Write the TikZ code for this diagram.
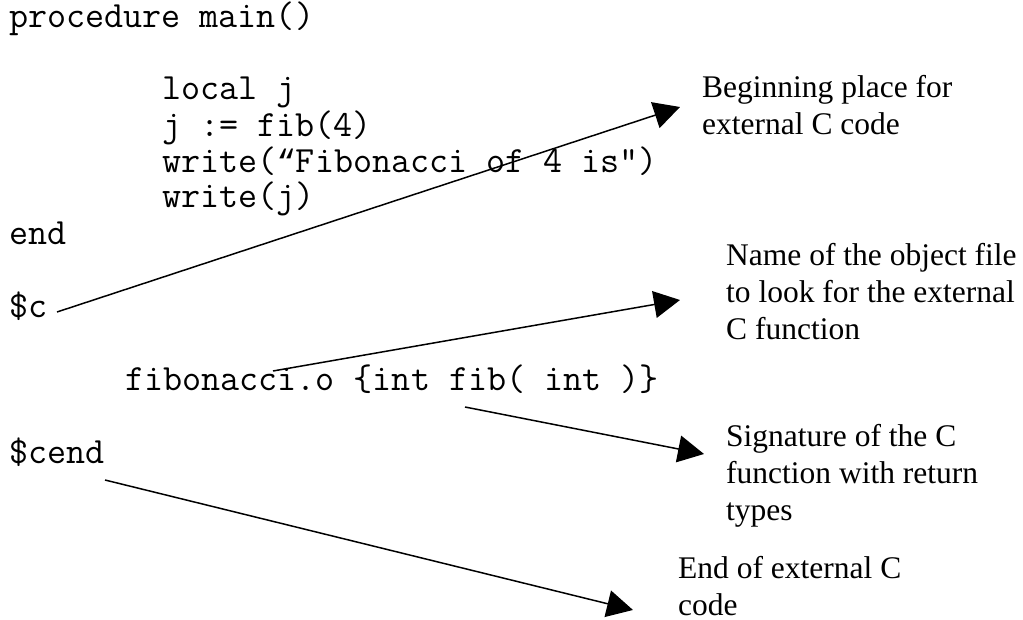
\documentclass[tikz,border=0pt]{standalone}
\usepackage{fontspec}
\setmainfont{Liberation Serif}
\setmonofont{Latin Modern Mono}
\newfontfamily\quotemono{Liberation Mono}
\newcommand{\openquote}{{\quotemono\fontsize{32.4}{37}\selectfont “}}
\usetikzlibrary{arrows.meta}
\begin{document}
\begin{tikzpicture}[x=1pt,y=-1pt,
  code/.style={font=\ttfamily\fontsize{37}{37}\selectfont, anchor=base west, inner sep=0pt},
  note/.style={font=\fontsize{31.5}{37}\selectfont, anchor=base west, inner sep=0pt, align=left},
  pointer/.style={line width=1.5pt, -{Triangle[length=26pt,width=27pt]}}]
\useasboundingbox (0,0) rectangle (1023,620);

% Icon program with embedded C block
\node[code] (proc)  at (9,28)    {procedure main()};
\node[code] (loc)   at (162,100) {local j};
\node[code] (asg)   at (162,137) {j := fib(4)};
\node[code] (wr1)   at (162,173) {write(\openquote Fibonacci of 4 is")};
\node[code] (wr2)   at (162,208) {write(j)};
\node[code] (pend)  at (9,245)   {end};
\node[code] (cbeg)  at (9,318)   {\$c};
\node[code] (sig)   at (125,390) {fibonacci.o \{int fib( int )\}};
\node[code] (cend)  at (9,463)   {\$cend};

% Explanations (anchored on the baseline of their last line)
\node[note] (nBegin) at (702,135) {Beginning place for\\external C code};
\node[note] (nObj)   at (726,340) {Name of the object file\\to look for the external\\C function};
\node[note] (nSig)   at (726,520) {Signature of the C\\function with return\\types};
\node[note] (nEnd)   at (678,615) {End of external C\\code};

% Pointer end points
\coordinate (p1s) at (57,312);  \coordinate (p1e) at (680,107);
\coordinate (p2s) at (273,371); \coordinate (p2e) at (680,300);
\coordinate (p3s) at (465,407); \coordinate (p3e) at (704,454);
\coordinate (p4s) at (105,480); \coordinate (p4e) at (633,610);

\draw[pointer] (p1s) -- (p1e);
\draw[pointer] (p2s) -- (p2e);
\draw[pointer] (p3s) -- (p3e);
\draw[pointer] (p4s) -- (p4e);
\end{tikzpicture}
\end{document}
